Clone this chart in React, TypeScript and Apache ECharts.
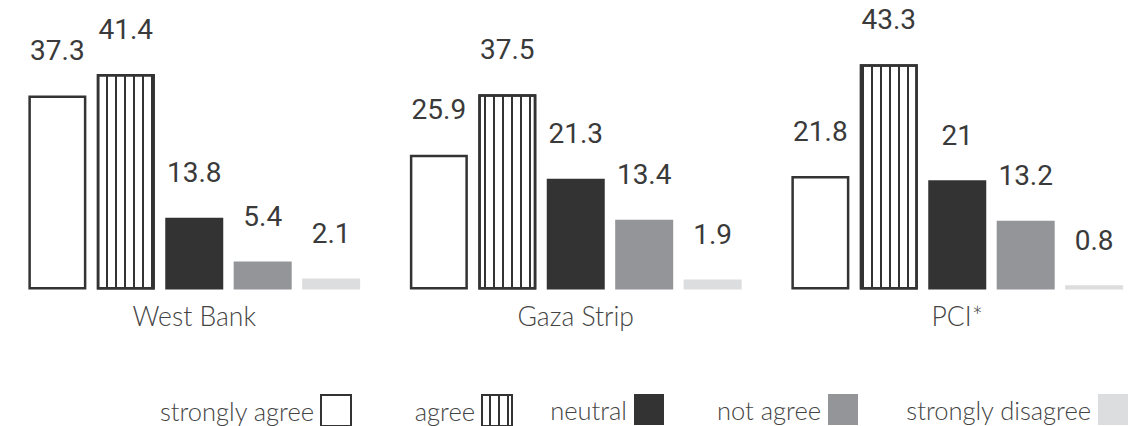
import React, { useEffect, useRef } from "react";
import * as echarts from "echarts";

const categories = ["West Bank", "Gaza Strip", "PCI*"];
const seriesNames = ["strongly agree", "agree", "neutral", "not agree", "strongly disagree"];
const stronglyAgree = [37.3, 25.9, 21.8];
const agree = [41.4, 37.5, 43.3];
const neutral = [13.8, 21.3, 21];
const notAgree = [5.4, 13.4, 13.2];
const stronglyDisagree = [2.1, 1.9, 0.8];

const DARK = "#333333";
const MID = "#939598";
const LIGHT = "#dcddde";

export default function App() {
  const ref = useRef<HTMLDivElement>(null);
  useEffect(() => {
    if (!ref.current) return;
    const chart = echarts.init(ref.current, undefined, { renderer: "svg" });
    const label = {
      show: true,
      position: "top",
      distance: 31,
      fontFamily: "Roboto",
      fontWeight: 400,
      fontSize: 28,
      color: "#3a3a3a",
    };
    const common = {
      type: "bar",
      barWidth: 58,
      barGap: "18%",
      label,
    };
    const legendText = {
      fontFamily: "Lato",
      fontWeight: 300,
      fontSize: 25.5,
      color: "#444",
      padding: [0, 2, 0, 0],
    };
    const iconRights = [352, 513, 664, 858, 1128];
    const legends = seriesNames.map((n, i) => ({
      data: [n],
      right: 1148 - iconRights[i],
      top: 394,
      padding: 0,
      align: "right",
      itemWidth: 30,
      itemHeight: 31,
      icon: "rect",
      textStyle: legendText,
      selectedMode: false,
    }));
    chart.setOption({
      animation: false,
      backgroundColor: "#ffffff",
      legend: legends,
      grid: { left: 3.5, width: 1152, top: 29.3, bottom: 136.5, containLabel: false },
      xAxis: {
        type: "category",
        data: categories,
        axisLine: { show: false },
        axisTick: { show: false },
        axisLabel: {
          margin: 13,
          fontFamily: "Lato",
          fontWeight: 300,
          fontSize: 26.5,
          color: "#444",
        },
      },
      yAxis: {
        type: "value",
        min: 0,
        max: 50,
        show: false,
        splitLine: { show: false },
      },
      series: [
        {
          ...common,
          name: seriesNames[0],
          data: stronglyAgree,
          itemStyle: { color: "#ffffff", borderColor: DARK, borderWidth: 2.5 },
        },
        {
          ...common,
          name: seriesNames[1],
          data: agree,
          itemStyle: {
            color: "#ffffff",
            borderColor: DARK,
            borderWidth: 2.5,
            decal: {
              symbol: "rect",
              symbolSize: 1,
              dashArrayX: [1, 0],
              dashArrayY: [1.2, 6.8],
              rotation: Math.PI / 2,
              color: DARK,
            },
          },
        },
        {
          ...common,
          name: seriesNames[2],
          data: neutral,
          itemStyle: { color: DARK },
        },
        {
          ...common,
          name: seriesNames[3],
          data: notAgree,
          itemStyle: { color: MID },
        },
        {
          ...common,
          name: seriesNames[4],
          data: stronglyDisagree,
          itemStyle: { color: LIGHT },
        },
      ],
    } as any);
    return () => chart.dispose();
  }, []);
  return (
    <div
      ref={ref}
      style={{ position: "fixed", left: 0, top: 0, width: 1148, height: 426, background: "#fff" }}
    />
  );
}
